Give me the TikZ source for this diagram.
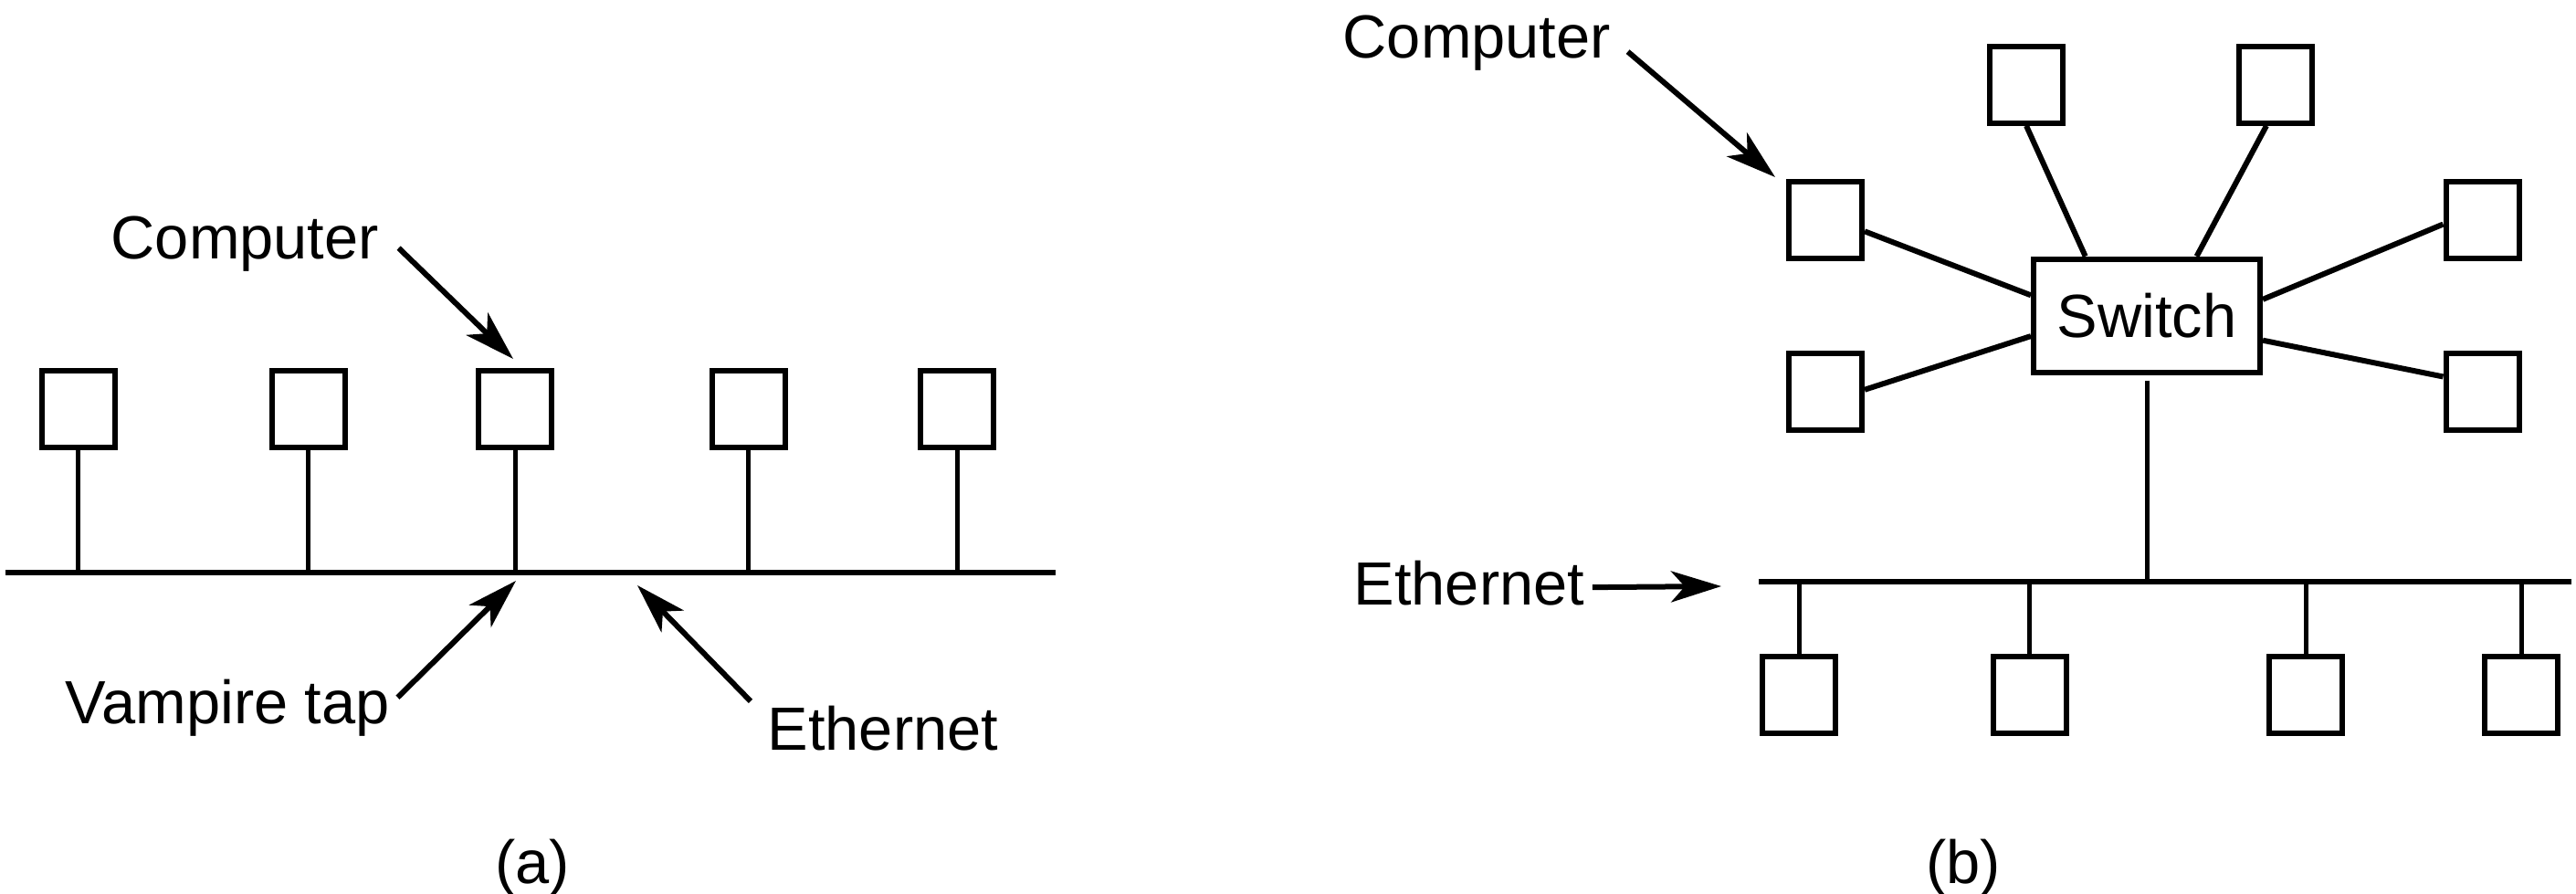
\documentclass[tikz,border=0pt]{standalone}
\usepackage{fontspec}
\setmainfont{Liberation Sans}
\usetikzlibrary{arrows.meta}
\newcommand{\pcunit}{0.8cm}
\tikzset{
    node style pc/.style={draw,rectangle,line width=0.06cm,inner sep=0,minimum width=\pcunit,minimum height=0.84cm},
    node style sw/.style={draw,rectangle,line width=0.06cm,inner sep=0,minimum width=2.48cm,minimum height=1.24cm,font=\fontsize{19pt}{23pt}\selectfont},
    node style txt/.style={inner sep=0,font=\fontsize{19pt}{23pt}\selectfont},
    line style bus/.style={line width=0.06cm},
    line style stem/.style={line width=0.05cm},
    arrow style lbl/.style={->,line width=0.06cm},
}

\begin{document}
\begin{tikzpicture}[>={Stealth[length=0.55cm,width=0.34cm,inset=0.15cm]}]
\useasboundingbox (0,0) rectangle (28.21,-9.79);

% (a)
\coordinate (busAl) at (0.06,-6.27);
\coordinate (busAr) at (11.56,-6.27);
\draw [line style bus] (busAl)--(busAr);

\foreach \n/\x in {1/0.856,2/3.376,3/5.64,4/8.195,5/10.48}{
  \node [node style pc] (a\n) at (\x,-4.475) {};
  \draw [line style stem] (a\n.south)--(a\n.south |- busAl);
}

\node [node style txt,anchor=base west] (compA) at (1.21,-2.83) {Computer};
\coordinate (compAtip) at (5.62,-3.93);
\draw [arrow style lbl] ([shift={(0.21,-0.05)}]compA.east)--(compAtip);

\node [node style txt,anchor=base west] (tapA) at (0.71,-7.92) {Vampire tap};
\coordinate (tapAtip) at (5.65,-6.36);
\draw [arrow style lbl] ([shift={(0.08,0.11)}]tapA.east)--(tapAtip);

\node [node style txt,anchor=base west] (ethA) at (8.40,-8.21) {Ethernet};
\coordinate (ethAtip) at (6.98,-6.41);
\draw [arrow style lbl] ([shift={(-0.18,0.04)}]ethA.north west)--(ethAtip);

\node [node style txt,anchor=base] (capA) at (5.83,-9.67) {(a)};

% (b)
\node [node style sw] (sw) at (23.51,-3.457) {Switch};

\node [node style pc] (t1) at (22.19,-0.9275) {};
\node [node style pc] (t2) at (24.915,-0.9275) {};
\node [node style pc] (l1) at (19.99,-2.41) {};
\node [node style pc] (l2) at (19.99,-4.29) {};
\node [node style pc] (r1) at (27.185,-2.41) {};
\node [node style pc] (r2) at (27.185,-4.29) {};

\foreach \a/\b in {l1.-16/sw.170,l2.3/sw.190,t1.south/sw.136,t2.-102/sw.50,r1.186/sw.8,r2.159/sw.-12}
  \draw [line style bus] (\a)--(\b);

\coordinate (busBl) at (19.26,-6.365);
\coordinate (busBr) at (28.16,-6.365);
\draw [line style bus] (busBl)--(busBr);
\draw [line style stem,shorten <=0.06cm] (sw.south)--(sw.south |- busBl);

\foreach \n/\x in {1/19.70,2/22.225,3/25.25,4/27.61}{
  \node [node style pc] (b\n) at (\x,-7.61) {};
  \draw [line style stem] (b\n.north)--(b\n.north |- busBl);
}

\node [node style txt,anchor=base west] (compB) at (14.70,-0.64) {Computer};
\coordinate (compBtip) at (19.44,-1.94);
\draw [arrow style lbl] ([shift={(0.18,-0.09)}]compB.east)--(compBtip);

\node [node style txt,anchor=base west] (ethB) at (14.82,-6.62) {Ethernet};
\coordinate (ethBtip) at (18.85,-6.42);
\draw [arrow style lbl] ([shift={(0.08,-0.05)}]ethB.east)--(ethBtip);

\node [node style txt,anchor=base] (capB) at (21.50,-9.67) {(b)};

\end{tikzpicture}
\end{document}
